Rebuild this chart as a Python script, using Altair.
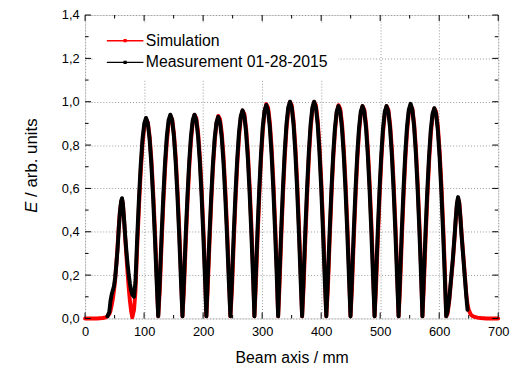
import altair as alt
import pandas as pd

# ---- data (beam axis position in mm, field in arb. units) ----
beam_x = [
    0, 10, 20, 30, 35, 38, 41, 43, 45, 47, 49, 51, 53, 55, 57, 59, 61, 62.5, 64, 66, 68, 70, 72, 74, 76, 78, 80, 82.9,
    85.3, 88.3, 91.3, 94.3, 97.3, 100.3, 103.3, 106.3, 109.3, 112.3, 115.3, 118.3, 121.3, 123.9,
    126.5, 129.5, 132.5, 135.5, 138.5, 141.5, 144.5, 147.5, 150.5, 153.5, 156.5, 159.5, 162.5, 165.0,
    167.4, 170.4, 173.4, 176.4, 179.4, 182.4, 185.4, 188.4, 191.4, 194.4, 197.4, 200.4, 203.4, 205.5,
    207.6, 210.6, 213.6, 216.6, 219.6, 222.6, 225.6, 228.6, 231.6, 234.6, 237.6, 240.6, 243.6, 246.2,
    248.8, 251.8, 254.8, 257.8, 260.8, 263.8, 266.8, 269.8, 272.8, 275.8, 278.8, 281.8, 284.8, 286.9,
    289.0, 292.0, 295.0, 298.0, 301.0, 304.0, 307.0, 310.0, 313.0, 316.0, 319.0, 322.0, 325.0, 327.1,
    329.2, 332.2, 335.2, 338.2, 341.2, 344.2, 347.2, 350.2, 353.2, 356.2, 359.2, 362.2, 365.2, 367.7,
    370.1, 373.1, 376.1, 379.1, 382.1, 385.1, 388.1, 391.1, 394.1, 397.1, 400.1, 403.1, 406.1, 408.7,
    411.3, 414.3, 417.3, 420.3, 423.3, 426.3, 429.3, 432.3, 435.3, 438.3, 441.3, 444.3, 447.3, 449.7,
    452.1, 455.1, 458.1, 461.1, 464.1, 467.1, 470.1, 473.1, 476.1, 479.1, 482.1, 485.1, 488.1, 490.5,
    492.8, 495.8, 498.8, 501.8, 504.8, 507.8, 510.8, 513.8, 516.8, 519.8, 522.8, 525.8, 528.8, 531.2,
    533.5, 536.5, 539.5, 542.5, 545.5, 548.5, 551.5, 554.5, 557.5, 560.5, 563.5, 566.5, 569.5, 571.6,
    573.7, 576.7, 579.7, 582.7, 585.7, 588.7, 591.7, 594.7, 597.7, 600.7, 603.7, 606.7, 609.7, 611.9,
    614, 617, 620, 623, 626, 628, 630, 632, 634, 636, 638, 640, 642, 644, 646, 648, 650, 653, 656, 660, 665, 670, 680, 690, 700,
]

sim_y = [
    0, 0, 0, .002, .005, .01, .02, .035, .06, .09, .13, .18, .25, .33, .42, .49, .535, .55, .53, .455, .37, .29, .21, .14, .08, .035, .005, .04,
    .124, .330, .518, .679, .803, .885, .919, .904, .841, .733, .586, .408, .208, .01,
    .126, .336, .526, .690, .816, .899, .934, .919, .855, .745, .596, .414, .211, .01,
    .127, .337, .529, .694, .821, .904, .939, .924, .859, .749, .599, .416, .212, .01,
    .126, .336, .526, .690, .816, .899, .934, .919, .855, .745, .596, .414, .211, .01,
    .130, .345, .540, .708, .838, .924, .959, .944, .877, .765, .612, .425, .217, .01,
    .134, .355, .557, .731, .864, .952, .989, .973, .905, .789, .631, .439, .224, .01,
    .135, .359, .563, .738, .873, .962, .999, .983, .914, .797, .637, .443, .226, .01,
    .135, .359, .563, .738, .873, .962, .999, .983, .914, .797, .637, .443, .226, .01,
    .133, .354, .555, .727, .860, .948, .984, .968, .900, .785, .627, .436, .223, .01,
    .132, .352, .552, .723, .856, .943, .979, .963, .896, .781, .624, .434, .221, .01,
    .132, .352, .552, .723, .856, .943, .979, .963, .896, .781, .624, .434, .221, .01,
    .133, .354, .555, .727, .860, .948, .984, .968, .900, .785, .627, .436, .223, .01,
    .131, .348, .546, .716, .847, .933, .969, .954, .887, .773, .618, .430, .219, .01,
    .02, .08, .17, .26, .37, .45, .52, .555, .535, .47, .39, .32, .25, .18, .11, .065, .04, .02, .012, .007, .004, .002, 0, 0, 0,
]

meas_y = [
    None, None, None, None, None, .01, .03, .08, .11, .13, .15, .19, .25, .32, .41, .49, .54, .555, .53, .46, .38, .31, .25, .20, .16, .13, .11, .10,
    .167, .372, .555, .710, .828, .900, .925, .900, .828, .710, .555, .372, .167, .01,
    .169, .378, .564, .722, .841, .915, .940, .915, .841, .722, .564, .378, .169, .01,
    .169, .378, .564, .722, .841, .915, .940, .915, .841, .722, .564, .378, .169, .01,
    .167, .374, .558, .714, .832, .905, .930, .905, .832, .714, .558, .374, .167, .01,
    .173, .386, .576, .737, .859, .934, .960, .934, .859, .737, .576, .386, .173, .01,
    .177, .396, .591, .756, .882, .958, .985, .958, .882, .756, .591, .396, .177, .01,
    .180, .402, .600, .768, .895, .973, 1.00, .973, .895, .768, .600, .402, .180, .01,
    .180, .402, .600, .768, .895, .973, 1.00, .973, .895, .768, .600, .402, .180, .01,
    .176, .394, .588, .753, .877, .954, .980, .954, .877, .753, .588, .394, .176, .01,
    .176, .394, .588, .753, .877, .954, .980, .954, .877, .753, .588, .394, .176, .01,
    .176, .394, .588, .753, .877, .954, .980, .954, .877, .753, .588, .394, .176, .01,
    .178, .398, .594, .760, .886, .963, .990, .963, .886, .760, .594, .398, .178, .01,
    .175, .390, .582, .745, .868, .944, .970, .944, .868, .745, .582, .390, .175, .01,
    .03, .09, .18, .27, .38, .46, .53, .56, .53, .46, .38, .31, .24, .17, .10, .04, None, None, None, None, None, None, None, None, None,
]

series_names = ["Simulation", "Measurement 01-28-2015"]
series_colors = ["#ff0000", "#000000"]

x_major = [0, 100, 200, 300, 400, 500, 600, 700]
x_minor = [50, 150, 250, 350, 450, 550, 650]
y_major = [0.0, 0.2, 0.4, 0.6, 0.8, 1.0, 1.2, 1.4]
y_minor = [0.1, 0.3, 0.5, 0.7, 0.9, 1.1, 1.3]

assert len(beam_x) == len(sim_y) == len(meas_y)

rows = []
for xv, sv, mv in zip(beam_x, sim_y, meas_y):
    rows.append({"x": xv, "y": sv, "series": series_names[0]})
    if mv is not None:
        rows.append({"x": xv, "y": mv, "series": series_names[1]})
df = pd.DataFrame(rows)

W, H = 418, 307
FONT = "Liberation Sans"

xs = alt.Scale(domain=[0, 700], nice=False, zero=False)
ys = alt.Scale(domain=[0, 1.4], nice=False)

legend = alt.Legend(
    title=None, orient="none", legendX=9, legendY=8, fillColor="white", padding=10,
    labelFont=FONT, labelFontSize=16, labelColor="#000000", labelLimit=400,
    symbolType="M-3.7,0H3.7M-0.2,-0.2H0.2V0.2H-0.2Z", symbolSize=100,
    symbolStrokeWidth=1.3, symbolOffset=13.5, labelOffset=13, rowPadding=6,
)
color = alt.Color("series:N", scale=alt.Scale(domain=series_names, range=series_colors), legend=legend)

x_axis = alt.Axis(
    title="Beam axis / mm", values=x_major, ticks=False, tickSize=0, domain=False,
    labelFont=FONT, labelFontSize=13, labelColor="#000000", labelPadding=7, labelFlush=False,
    titleFont=FONT, titleFontSize=16, titleFontWeight="normal", titleColor="#000000", titlePadding=12,
    grid=True, gridColor="#9a9a9a", gridDash=[1, 2], gridWidth=1,
)
y_axis = alt.Axis(
    title=None, values=y_major, ticks=False, tickSize=0, domain=False,
    labelFont=FONT, labelFontSize=13, labelColor="#000000", labelPadding=6, labelFlush=False,
    labelExpr="replace(format(datum.value, '.1f'), '.', ',')",
    grid=True, gridColor="#9a9a9a", gridDash=[1, 2], gridWidth=1,
)

base = alt.Chart(df).encode(
    x=alt.X("x:Q", scale=xs, axis=x_axis),
    y=alt.Y("y:Q", scale=ys, axis=y_axis),
    color=color,
    strokeWidth=alt.value(4),
)
sim_line = base.mark_line(strokeJoin="round", strokeCap="round").transform_filter(
    alt.datum.series == series_names[0])
meas_line = base.mark_line(strokeJoin="round", strokeCap="round").transform_filter(
    alt.datum.series == series_names[1])


def xticks(vals, length):
    d = pd.DataFrame({"x": vals})
    bottom = alt.Chart(d).mark_rule(color="black", strokeWidth=1).encode(
        x=alt.X("x:Q", scale=xs, axis=x_axis), y=alt.value(H - length), y2=alt.value(H))
    top = alt.Chart(d).mark_rule(color="black", strokeWidth=1).encode(
        x=alt.X("x:Q", scale=xs, axis=x_axis), y=alt.value(0), y2=alt.value(length))
    return [bottom, top]


def yticks(vals, length):
    d = pd.DataFrame({"y": vals})
    left = alt.Chart(d).mark_rule(color="black", strokeWidth=1).encode(
        y=alt.Y("y:Q", scale=ys, axis=y_axis), x=alt.value(0), x2=alt.value(length))
    right = alt.Chart(d).mark_rule(color="black", strokeWidth=1).encode(
        y=alt.Y("y:Q", scale=ys, axis=y_axis), x=alt.value(W - length), x2=alt.value(W))
    return [left, right]


tick_layers = xticks(x_major, 6) + xticks(x_minor, 3.5) + yticks(y_major, 6) + yticks(y_minor, 3.5)

title_e = alt.Chart(pd.DataFrame({"t": ["E"]})).mark_text(
    angle=270, align="left", baseline="middle", font=FONT, fontSize=17, fontStyle="italic", color="#000000"
).encode(x=alt.value(-54), y=alt.value(200), text="t:N")
title_rest = alt.Chart(pd.DataFrame({"t": ["/ arb. units"]})).mark_text(
    angle=270, align="left", baseline="middle", font=FONT, fontSize=17, color="#000000"
).encode(x=alt.value(-54), y=alt.value(184), text="t:N")

chart = alt.layer(sim_line, meas_line, *tick_layers, title_e, title_rest).properties(
    width=W, height=H,
    autosize=alt.AutoSizeParams(type="none"),
    padding={"left": 78, "top": 5, "right": 18, "bottom": 47},
).configure_view(stroke="black", strokeWidth=1.3).configure(background="white")

chart.save("out.html", embed_options={"renderer": "svg", "actions": False})
